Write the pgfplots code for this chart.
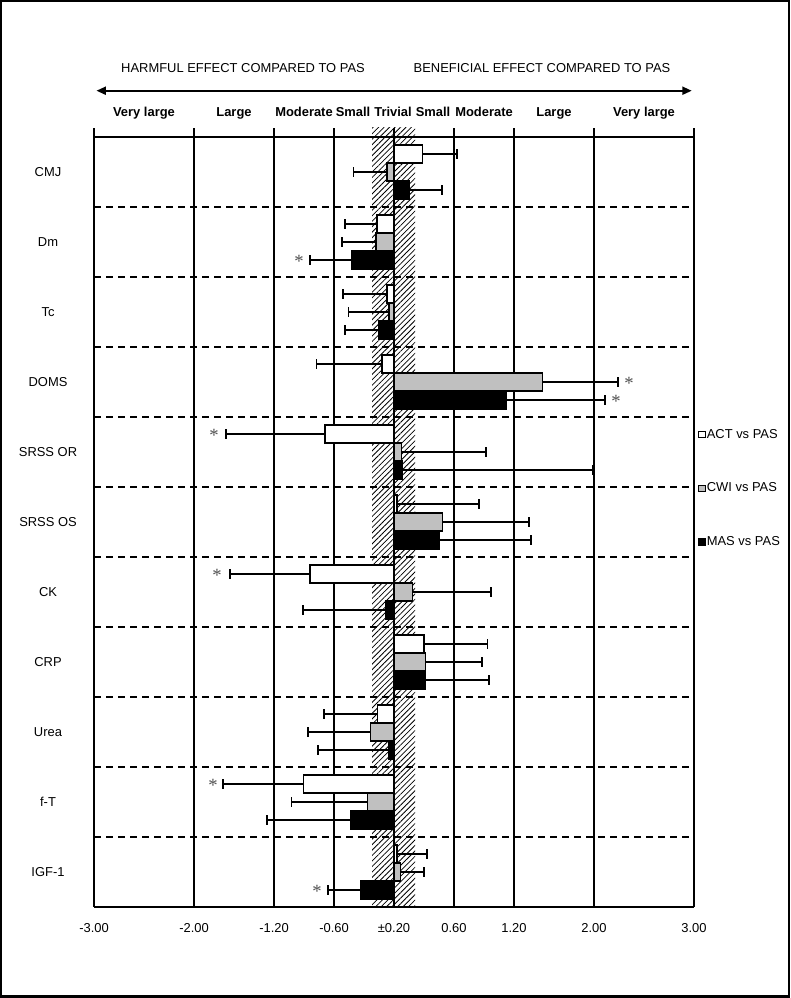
\documentclass[border=0pt]{standalone}
\usepackage{pgfplots}
\pgfplotsset{compat=1.18}
\usepackage{pgfplotstable}
\usepackage{fontspec}
\setmainfont{Liberation Sans}
\newfontfamily\serifast{Liberation Serif}
\usetikzlibrary{patterns.meta,arrows.meta}

\pgfplotstableread{
pos act actE cwi cwiE mas masE
11  0.285  0.345 -0.070 -0.335  0.150  0.330
10 -0.170 -0.320 -0.180 -0.340 -0.425 -0.415
9  -0.070 -0.440 -0.050 -0.405 -0.155 -0.335
8  -0.120 -0.655  1.487  0.754  1.120  0.988
7  -0.690 -0.988  0.074  0.845  0.084  1.905
6   0.030  0.820  0.482  0.872  0.452  0.919
5  -0.840 -0.804  0.181  0.788 -0.086 -0.822
4   0.300  0.635  0.316  0.568  0.316  0.636
3  -0.167 -0.537 -0.237 -0.620 -0.053 -0.704
2  -0.908 -0.804 -0.267 -0.758 -0.438 -0.834
1   0.030  0.302  0.064  0.234 -0.338 -0.318
}\effects

\pgfplotstableread{
x y
-0.95 9.743
2.35 8.00
2.22 7.743
-1.80 7.257
-1.77 5.257
-1.81 2.257
-0.77 0.743
}\stars

\pgfplotstableread{
x y
-0.22 0.5
0.21 0.5
0.21 11.6286
-0.22 11.6286
}\trivialzone

\definecolor{barGray}{RGB}{192,192,192}
\definecolor{starGray}{RGB}{80,80,80}

\pgfplotsset{
  effbar/.style={xbar, bar width=0.25714, bar shift=0pt, draw=black, line width=0.9pt,
    error bars/x dir=plus, error bars/x explicit, error bars/error mark=|,
    error bars/error bar style={black, line width=1.4pt, solid},
    error bars/error mark options={black, line width=1.4pt, mark size=3.4pt}},
}

\begin{document}
\fontsize{9.7pt}{11.6pt}\selectfont
\begin{tikzpicture}
\useasboundingbox (0,0) rectangle (592.5pt,748.5pt);
\draw[line width=1.5pt] (0.75pt,1.125pt) rectangle (591.75pt,747.75pt);
\begin{axis}[
  at={(70.5pt,68.25pt)}, anchor=south west,
  scale only axis, width=450pt, height=584.25pt,
  xmin=-3, xmax=3, ymin=0.5, ymax=11.6286,
  clip=false,
  axis x line*=bottom, axis y line*=left,
  axis line style={-, black, line width=1.5pt},
  major tick length=0pt, minor tick length=0pt,
  xtick={-3,-2,-1.2,-0.6,0,0.6,1.2,2,3},
  xticklabels={-3.00,-2.00,-1.20,-0.60,±0.20,0.60,1.20,2.00,3.00},
  xmajorgrids,
  x grid style={black, line width=1.5pt, solid},
  xticklabel style={anchor=base, yshift=-19.3pt},
  ytick={1,...,11},
  yticklabels={IGF-1,f-T,Urea,CRP,CK,SRSS OS,SRSS OR,DOMS,Tc,Dm,CMJ},
  yticklabel style={anchor=center, xshift=-34.5pt},
  extra y ticks={1.5,2.5,...,10.5},
  extra y tick labels={},
  extra y tick style={grid=major, major grid style={black, line width=1.5pt, dash pattern=on 5.5pt off 3.5pt}},
  legend style={draw=none, fill=none, at={(1,0.5374)}, anchor=west, xshift=2.5pt, row sep=30pt, inner sep=0pt, nodes={inner sep=1pt}},
  legend cell align=left,
  legend image code/.code={\draw[#1, line width=0.7pt] (0pt,-2.3pt) rectangle (5.2pt,2.3pt);},
]
\addplot[draw=none, pattern={Lines[angle=45,distance=2.9pt,line width=0.6pt]}, forget plot] table {\trivialzone} -- cycle;
\addplot[black, line width=1.5pt, forget plot] coordinates {(-3,11.5) (3,11.5)};

\addplot[effbar, fill=white]
  table[x=act, y expr=\thisrow{pos}+0.25714, x error=actE] {\effects};
\addlegendentry{ACT vs PAS}
\addplot[effbar, fill=barGray]
  table[x=cwi, y expr=\thisrow{pos}, x error=cwiE] {\effects};
\addlegendentry{CWI vs PAS}
\addplot[effbar, fill=black]
  table[x=mas, y expr=\thisrow{pos}-0.25714, x error=masE] {\effects};
\addlegendentry{MAS vs PAS}

\addplot[only marks, color=starGray, mark=text, text mark={*}, text mark as node=true,
  text mark style={font=\serifast\fontsize{14pt}{14pt}\selectfont, text=starGray, yshift=-1pt}, forget plot]
  table {\stars};

\node[anchor=base] at (axis cs:-1.51,12.424) {HARMFUL EFFECT COMPARED TO PAS};
\node[anchor=base] at (axis cs:1.48,12.424) {BENEFICIAL EFFECT COMPARED TO PAS};
\draw[{Triangle[length=7pt,width=6pt]}-{Triangle[length=7pt,width=6pt]}, line width=1.4pt]
  (axis cs:-2.975,12.161) -- (axis cs:2.977,12.161);
\node[anchor=base, font=\bfseries] at (axis cs:-2.5,11.793) {Very large};
\node[anchor=base, font=\bfseries] at (axis cs:-1.6,11.793) {Large};
\node[anchor=base, font=\bfseries] at (axis cs:-0.9,11.793) {Moderate};
\node[anchor=base, font=\bfseries] at (axis cs:-0.41,11.793) {Small};
\node[anchor=base, font=\bfseries] at (axis cs:-0.01,11.793) {Trivial};
\node[anchor=base, font=\bfseries] at (axis cs:0.39,11.793) {Small};
\node[anchor=base, font=\bfseries] at (axis cs:0.9,11.793) {Moderate};
\node[anchor=base, font=\bfseries] at (axis cs:1.6,11.793) {Large};
\node[anchor=base, font=\bfseries] at (axis cs:2.5,11.793) {Very large};
\end{axis}
\end{tikzpicture}
\end{document}
